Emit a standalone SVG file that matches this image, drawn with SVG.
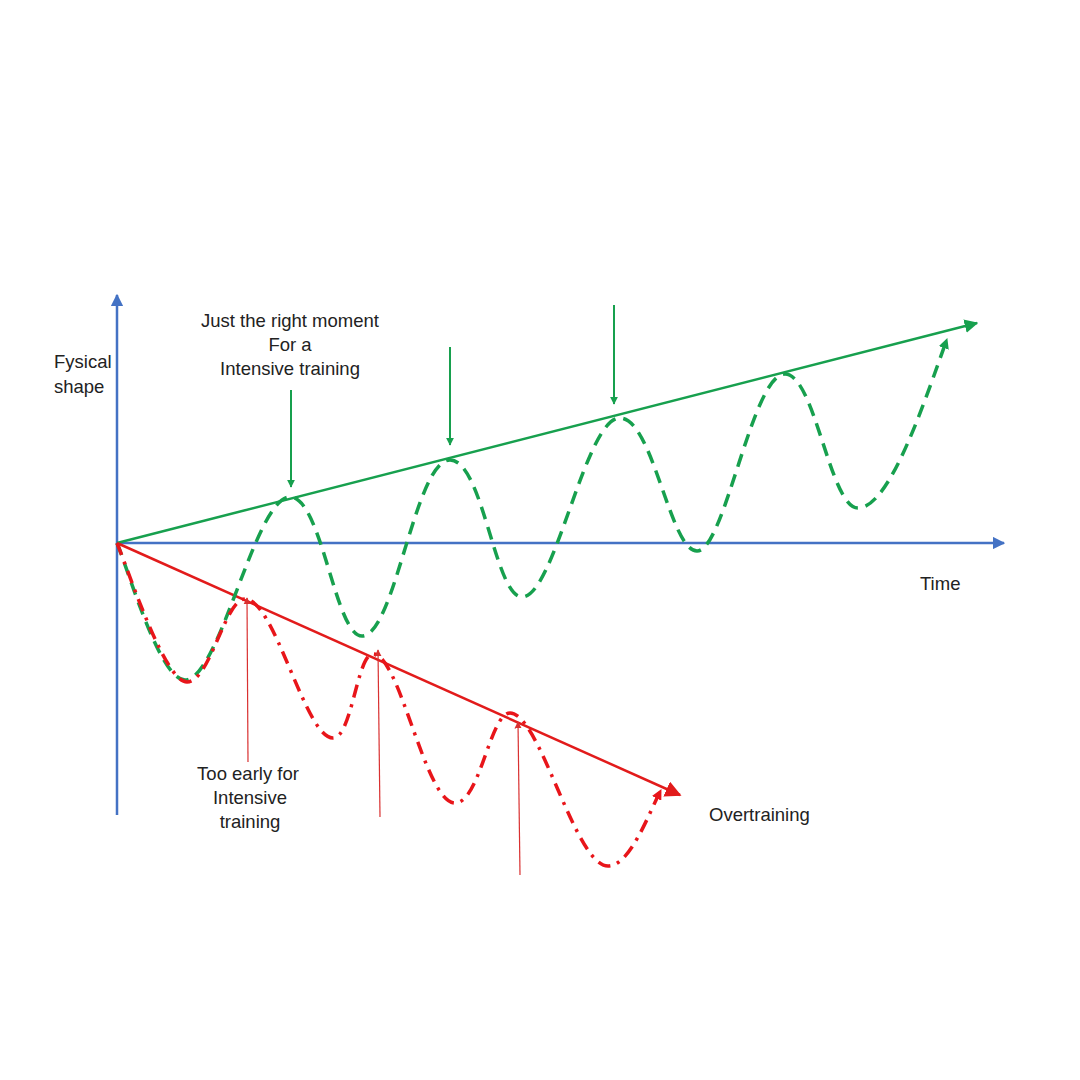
<svg xmlns="http://www.w3.org/2000/svg" width="1080" height="1080" viewBox="0 0 1080 1080">
<defs>
<style>
.t{font-family:"Liberation Sans","Open Sans",sans-serif;font-size:18.5px;fill:#222}
.ax{stroke:#4472C4;stroke-width:2.5;fill:none}
.gl{stroke:#17A04E;stroke-width:2.5;fill:none}
.rl{stroke:#E21B1B;stroke-width:2.5;fill:none}
.gw{stroke:#17A04E;stroke-width:3.5;fill:none;stroke-dasharray:13 8}
.rw{stroke:#E8151A;stroke-width:3.5;fill:none;stroke-dasharray:13 7 3 7}
.ga{stroke:#17A04E;stroke-width:2;fill:none}
.ra{stroke:#D93030;stroke-width:1.2;fill:none}
</style>
<marker id="mb" viewBox="0 0 10 10" refX="9" refY="5" markerWidth="5" markerHeight="5" markerUnits="strokeWidth" orient="auto"><path d="M0,0L10,5L0,10Z" fill="#4472C4"/></marker>
<marker id="mg" viewBox="0 0 10 10" refX="9" refY="5" markerWidth="5.5" markerHeight="5.5" markerUnits="strokeWidth" orient="auto"><path d="M0,0L10,5L0,10Z" fill="#17A04E"/></marker>
<marker id="mr" viewBox="0 0 10 10" refX="9" refY="5" markerWidth="6.5" markerHeight="6.5" markerUnits="strokeWidth" orient="auto"><path d="M0,0L10,5L0,10Z" fill="#E21B1B"/></marker>
<marker id="mgw" viewBox="0 0 10 10" refX="9" refY="5" markerWidth="3" markerHeight="3" markerUnits="strokeWidth" orient="auto"><path d="M0,0L10,5L0,10Z" fill="#17A04E"/></marker>
<marker id="mrw" viewBox="0 0 10 10" refX="9" refY="5" markerWidth="3" markerHeight="3" markerUnits="strokeWidth" orient="auto"><path d="M0,0L10,5L0,10Z" fill="#E8151A"/></marker>
<marker id="mga" viewBox="0 0 10 10" refX="9" refY="5" markerWidth="4" markerHeight="4" markerUnits="strokeWidth" orient="auto"><path d="M0,0L10,5L0,10Z" fill="#17A04E"/></marker>
<marker id="mra" viewBox="0 0 10 10" refX="9" refY="5" markerWidth="6" markerHeight="6" markerUnits="strokeWidth" orient="auto"><path d="M0,0L10,5L0,10Z" fill="#D93030"/></marker>
</defs>
<rect width="1080" height="1080" fill="#fff"/>
<g id="connectors">
<g id="axes">
<line class="ax" x1="117" y1="815" x2="117" y2="295" marker-end="url(#mb)"/>
<line class="ax" x1="117" y1="543" x2="1004" y2="543" marker-end="url(#mb)"/>
</g>
<g id="trend-lines">
<line class="gl" x1="117" y1="543" x2="977" y2="323" marker-end="url(#mg)"/>
<line class="rl" x1="117" y1="543" x2="680" y2="795" marker-end="url(#mr)"/>
</g>
<g id="waves">
<path class="gw" d="M117,543 C130,575 160,680 185,680 C220,680 255,497 290,497 C322,497 335,636 362,636 C395,636 415,460 450,460 C483,460 495,597 522,597 C555,597 585,418 620,418 C653,418 670,551 697,551 C725,551 752,374 785,374 C815,374 830,508 858,508 C890,508 925,400 947,339" marker-end="url(#mgw)"/>
<path class="rw" d="M117,543 C130,575 165,682 187,682 C210,682 225,599 245,599 C275,599 305,738 333,738 C352,738 357,654 373,654 C400,654 425,803 455,803 C480,803 490,713 510,713 C540,713 575,866 608,866 C630,866 648,815 661,790" marker-end="url(#mrw)"/>
</g>
<g id="pointer-arrows">
<line class="ga" x1="291" y1="390" x2="291" y2="487" marker-end="url(#mga)"/>
<line class="ga" x1="450" y1="347" x2="450" y2="445" marker-end="url(#mga)"/>
<line class="ga" x1="614" y1="305" x2="614" y2="404" marker-end="url(#mga)"/>
<line class="ra" x1="248" y1="762" x2="247" y2="598" marker-end="url(#mra)"/>
<line class="ra" x1="380" y1="817" x2="378" y2="650" marker-end="url(#mra)"/>
<line class="ra" x1="520" y1="875" x2="518" y2="722" marker-end="url(#mra)"/>
</g>
</g>
<g id="label-y">
<text class="t" x="54" y="368">Fysical</text>
<text class="t" x="54" y="393">shape</text>
</g>
<g id="label-x"><text class="t" x="920" y="590">Time</text></g>
<g id="label-right-moment">
<text class="t" x="290" y="327" text-anchor="middle">Just the right moment</text>
<text class="t" x="290" y="351" text-anchor="middle">For a</text>
<text class="t" x="290" y="375" text-anchor="middle">Intensive training</text>
</g>
<g id="label-too-early">
<text class="t" x="248" y="780" text-anchor="middle">Too early for</text>
<text class="t" x="250" y="804" text-anchor="middle">Intensive</text>
<text class="t" x="250" y="828" text-anchor="middle">training</text>
</g>
<g id="label-overtraining"><text class="t" x="709" y="821">Overtraining</text></g>
</svg>
